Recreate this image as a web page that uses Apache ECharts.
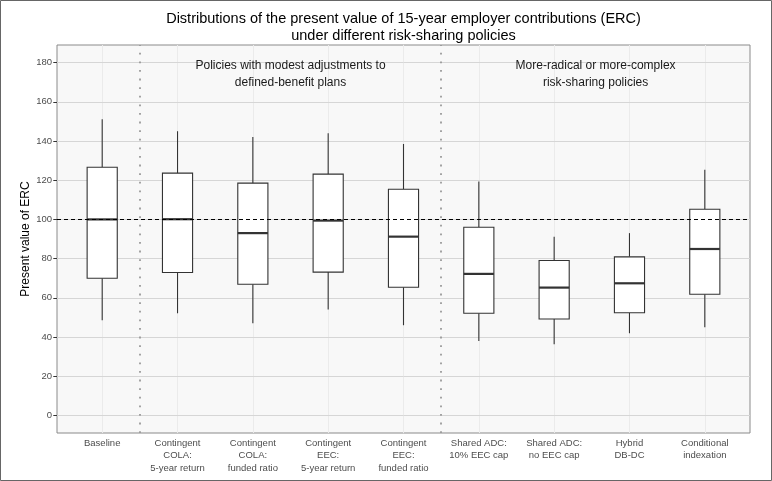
<!DOCTYPE html>
<html>
<head>
<meta charset="utf-8">
<script src="https://cdn.jsdelivr.net/npm/echarts@6/dist/echarts.min.js"></script>
<style>html,body{margin:0;padding:0;background:#fff}#c{width:772px;height:481px}</style>
</head>
<body>
<div id="c"></div>
<script>
// ---- data ----
const categories = [
  'Baseline',
  'Contingent\nCOLA:\n5-year return',
  'Contingent\nCOLA:\nfunded ratio',
  'Contingent\nEEC:\n5-year return',
  'Contingent\nEEC:\nfunded ratio',
  'Shared ADC:\n10% EEC cap',
  'Shared ADC:\nno EEC cap',
  'Hybrid\nDB-DC',
  'Conditional\nindexation'
];
const whiskerLow  = [48.6, 52.1, 47.0, 54.0, 46.0, 38.0, 36.3, 41.9, 45.0];
const q1          = [70.0, 72.9, 66.9, 73.1, 65.4, 52.1, 49.2, 52.4, 61.8];
const median      = [100.0, 100.1, 93.0, 99.4, 91.2, 72.2, 65.2, 67.4, 84.9];
const q3          = [126.6, 123.6, 118.5, 123.1, 115.4, 96.0, 79.0, 80.9, 105.2];
const whiskerHigh = [151.1, 145.0, 142.1, 144.0, 138.5, 119.3, 91.2, 93.0, 125.3];
const yTicks = [0, 20, 40, 60, 80, 100, 120, 140, 160, 180];
const referenceValue = 100;
const groupBreaks = [0.5, 4.5];
const groupLabels = [
  'Policies with modest adjustments to\ndefined-benefit plans',
  'More-radical or more-complex\nrisk-sharing policies'
];
const titleText = 'Distributions of the present value of 15-year employer contributions (ERC)\nunder different risk-sharing policies';
const yTitle = 'Present value of ERC';

// ---- layout ----
const P = { left: 57, top: 45, width: 693, height: 388 };
const yLim = [0, 180];
const yExp = (yLim[1] - yLim[0]) * 0.05;
const yMin = yLim[0] - yExp, yMax = yLim[1] + yExp;
const xMin = -0.6, xMax = categories.length - 1 + 0.6;
const ppuY = P.height / (yMax - yMin);
const ppuX = P.width / (xMax - xMin);
const g1 = {
  left: P.left + (-0.5 - xMin) * ppuX,
  width: categories.length * ppuX,
  top: P.top + (yMax - yLim[1]) * ppuY,
  height: (yLim[1] - yLim[0]) * ppuY
};
const xOffset = P.top + P.height - (g1.top + g1.height);
const yOffset = g1.left - P.left;

const FONT = 'Liberation Sans, Arial, sans-serif';
const rows = categories.map((c, i) => [i, whiskerLow[i], q1[i], median[i], q3[i], whiskerHigh[i]]);

const chart = echarts.init(document.getElementById('c'), null, { renderer: 'canvas' });
const option = {
  animation: false,
  backgroundColor: '#ffffff',
  grid: [
    { left: P.left, top: P.top, width: P.width, height: P.height, show: true,
      backgroundColor: '#f8f8f8', borderColor: '#8a8a8a', borderWidth: 1, containLabel: false },
    { left: g1.left, top: g1.top, width: g1.width, height: g1.height, containLabel: false }
  ],
  xAxis: [
    { type: 'value', gridIndex: 0, min: xMin, max: xMax, show: false },
    { type: 'category', gridIndex: 1, data: categories, offset: xOffset,
      boundaryGap: true,
      axisLine: { show: false },
      axisTick: { show: true, alignWithLabel: true, length: 3.7, lineStyle: { color: '#333', width: 1 } },
      axisLabel: { interval: 0, fontSize: 9.5, color: '#4d4d4d', margin: 4, lineHeight: 12.5, fontFamily: FONT },
      splitLine: { show: false } }
  ],
  yAxis: [
    { type: 'value', gridIndex: 0, min: yMin, max: yMax, show: false },
    { type: 'value', gridIndex: 1, min: yLim[0], max: yLim[1], interval: 20, offset: yOffset,
      axisLine: { show: false },
      axisTick: { show: true, length: 3.7, lineStyle: { color: '#333', width: 1 } },
      axisLabel: { fontSize: 9.5, color: '#4d4d4d', margin: 5, fontFamily: FONT },
      splitLine: { show: false } }
  ],
  graphic: [
    { type: 'rect', shape: { x: 0.5, y: 0.5, width: 771, height: 480 }, style: { fill: 'none', stroke: '#666', lineWidth: 1 }, z: 100 },
    { type: 'text', x: P.left + P.width / 2, y: 27, style: { text: titleText, font: '14.5px ' + FONT, fill: '#000', textAlign: 'center', textVerticalAlign: 'middle', lineHeight: 17 } },
    { type: 'text', x: 25.7, y: P.top + P.height / 2, rotation: Math.PI / 2,
      style: { text: yTitle, font: '12px ' + FONT, fill: '#000', textAlign: 'center', textVerticalAlign: 'middle' } },
    { type: 'text', x: P.left + (2.5 - xMin) * ppuX, y: 74, z: 10,
      style: { text: groupLabels[0], font: '12px ' + FONT, fill: '#1a1a1a', textAlign: 'center', textVerticalAlign: 'middle', lineHeight: 17.6 } },
    { type: 'text', x: P.left + (6.55 - xMin) * ppuX, y: 74, z: 10,
      style: { text: groupLabels[1], font: '12px ' + FONT, fill: '#1a1a1a', textAlign: 'center', textVerticalAlign: 'middle', lineHeight: 17.6 } }
  ],
  series: [
    { type: 'line', xAxisIndex: 0, yAxisIndex: 0, data: [], z: 1, silent: true,
      markLine: { z: 1, silent: true, symbol: 'none', label: { show: false }, animation: false,
        data: [
          ...categories.map((c, i) => ({ xAxis: i, lineStyle: { color: '#ebebeb', width: 1, type: 'solid' } })),
          ...yTicks.map(v => ({ yAxis: v, lineStyle: { color: '#d6d6d6', width: 1, type: 'solid' } }))
        ] } },
    { type: 'custom', xAxisIndex: 0, yAxisIndex: 0, data: rows, z: 3,
      encode: { x: 0, y: [1, 2, 3, 4, 5] },
      renderItem: function (params, api) {
        const x = api.value(0);
        const pLo = api.coord([x, api.value(1)]);
        const pQ1 = api.coord([x, api.value(2)]);
        const pMed = api.coord([x, api.value(3)]);
        const pQ3 = api.coord([x, api.value(4)]);
        const pHi = api.coord([x, api.value(5)]);
        const bw = api.size([1, 0])[0] * 0.4;
        const stroke = '#333333';
        return { type: 'group', children: [
          { type: 'line', shape: { x1: pLo[0], y1: pLo[1], x2: pQ1[0], y2: pQ1[1] }, style: { stroke: stroke, lineWidth: 1.1 } },
          { type: 'line', shape: { x1: pQ3[0], y1: pQ3[1], x2: pHi[0], y2: pHi[1] }, style: { stroke: stroke, lineWidth: 1.1 } },
          { type: 'rect', shape: { x: pQ3[0] - bw / 2, y: pQ3[1], width: bw, height: pQ1[1] - pQ3[1] }, style: { fill: '#ffffff', stroke: stroke, lineWidth: 1.1 } },
          { type: 'line', shape: { x1: pMed[0] - bw / 2, y1: pMed[1], x2: pMed[0] + bw / 2, y2: pMed[1] }, style: { stroke: stroke, lineWidth: 2.2 } }
        ] };
      } },
    { type: 'line', xAxisIndex: 0, yAxisIndex: 0, data: [], z: 5, silent: true,
      markLine: { z: 6, silent: true, symbol: 'none', label: { show: false }, animation: false,
        data: [
          { yAxis: referenceValue, lineStyle: { color: '#000', width: 1.1, type: [4, 3] } },
          ...groupBreaks.map(b => ({ xAxis: b, lineStyle: { color: '#9a9a9a', width: 1.8, type: [1.8, 6.8] } }))
        ] } }
  ]
};
chart.setOption(option);
</script>
</body>
</html>
